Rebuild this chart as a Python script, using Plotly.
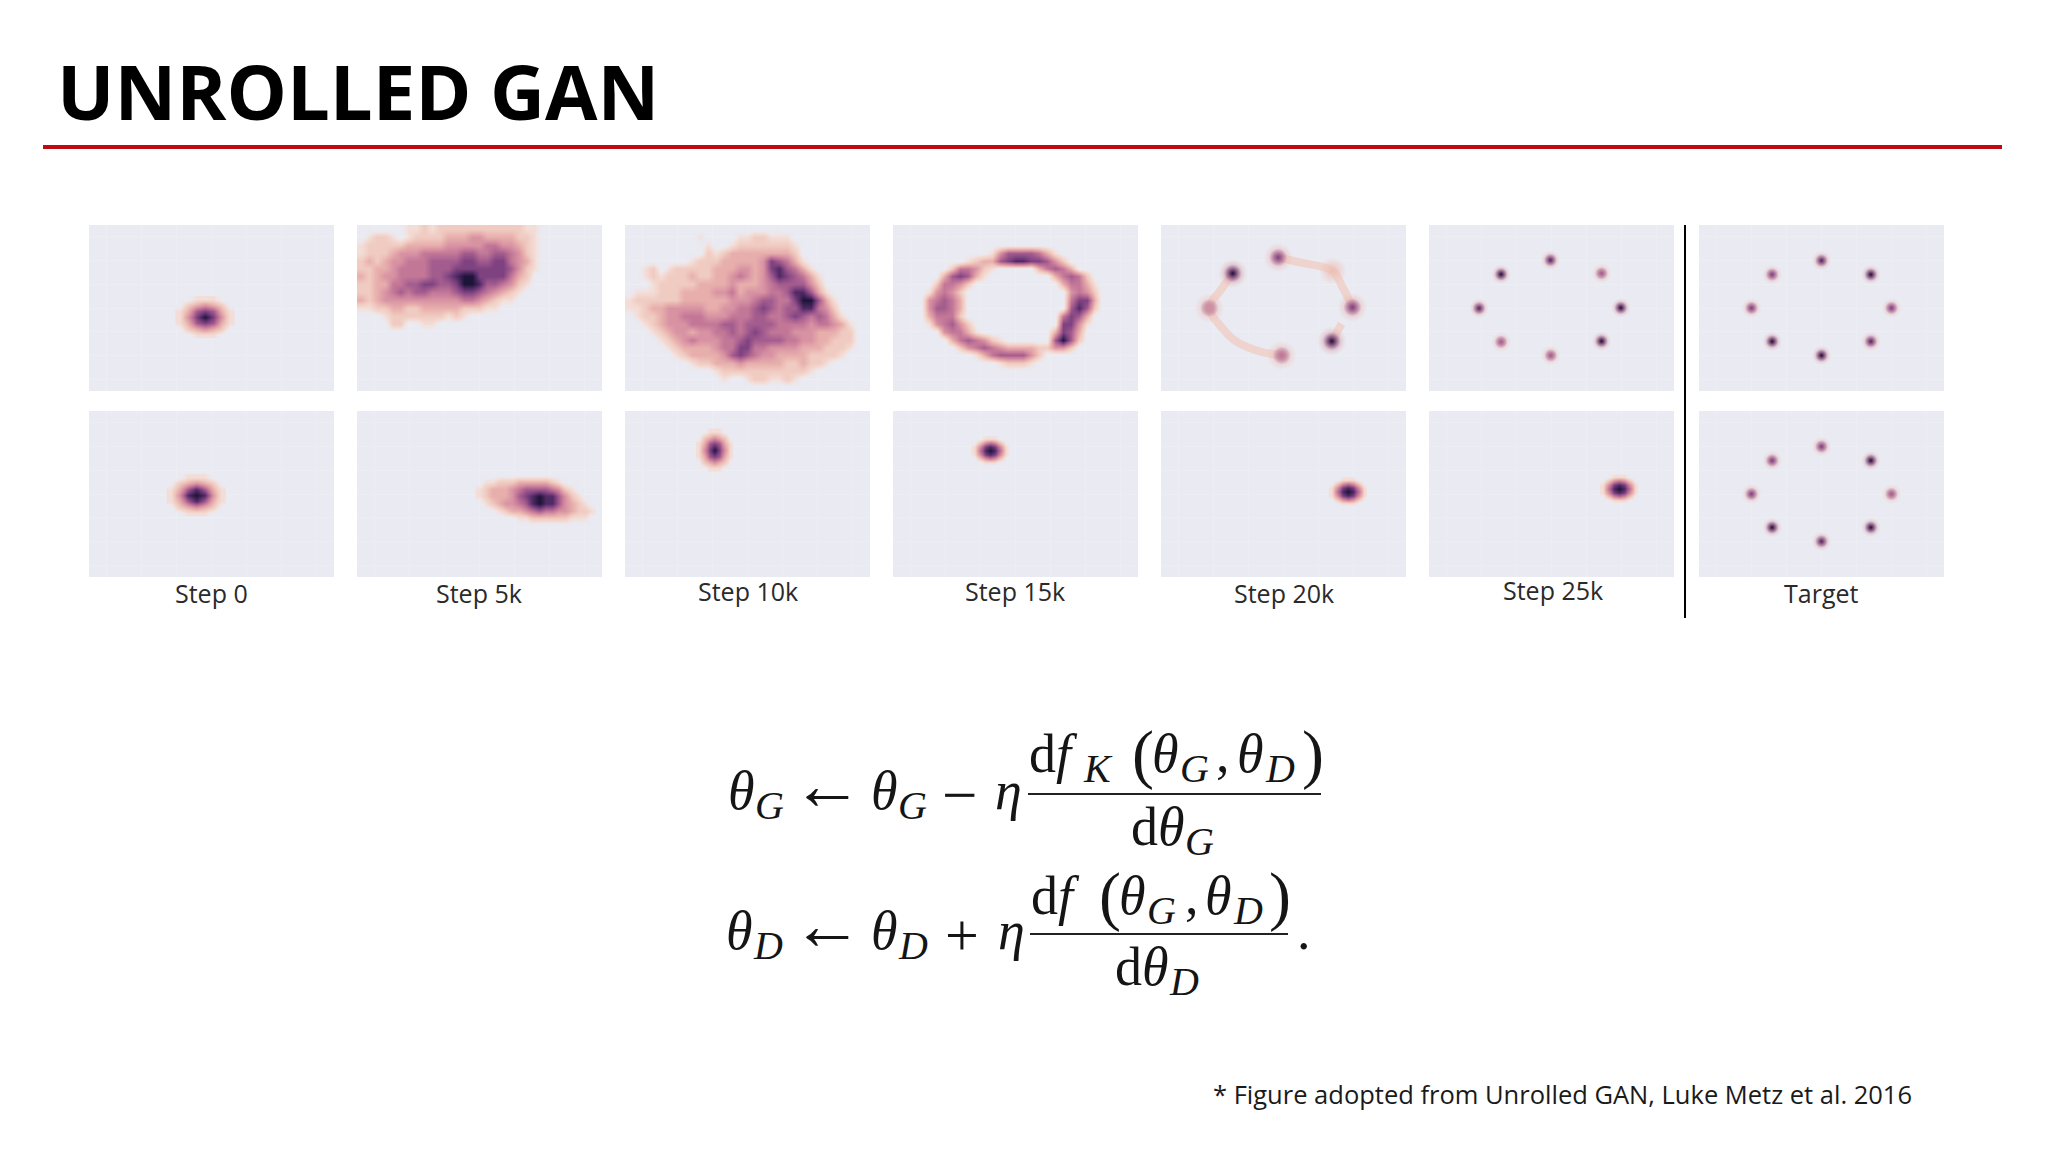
import plotly.graph_objects as go

W, H = 2048, 1152

TITLE_WORDS = ["UNROLLED", "GAN"]
FOOTNOTE = "* Figure adopted from Unrolled GAN, Luke Metz et al. 2016"
STEP_LABELS = ["Step 0", "Step 5k", "Step 10k", "Step 15k", "Step 20k", "Step 25k", "Target"]
LABEL_X = [211, 479, 748, 1015, 1284, 1553, 1821]
LABEL_Y = [593, 593, 591, 591, 593, 590, 593]

COL_LEFT = [89, 357, 625, 893, 1161, 1429, 1699]
PANEL_W = 245
ROW_TOP = [225, 411]
PANEL_H = 166

PALETTE = ["#EAEAF2", "#F3DDD7", "#F0CBC1", "#E7AEAC", "#D893A3", "#C27797",
           "#A35C8E", "#7E4280", "#4F2A63", "#1E1338"]

# Density levels (0-9), one string per row from the top.
DENSITY_5K = [
    "000000112122222222222110",
    "01221012222333443333221",
    "12222233333444445544321",
    "12223444555556655665421",
    "23234455566667766775431",
    "22334555566677777776421",
    "3234455556678997777532",
    "2233556677667998665421",
    "223456566555677654321",
    "32344444444445543211",
    "112233223333322211",
    "000122222221210",
    "0000220011",
]
DENSITY_10K = [
    "",
    "000000000100001122111",
    "0000000000100122222221",
    "0000000000212333333332",
    "00000000122233333476531",
    "001201222223334434786531",
    "0012122232233454346876531",
    "0001222223333433345666642",
    "01112223333445344455688631",
    "122222233333344456655799631",
    "112334444433445567656688542",
    "0122344555444555665567656531",
    "00123444555566566665555455431",
    "00012344344556567655544433322",
    "00001234544455676666554433222",
    "00000123333455775544443332221",
    "0000001233334676544333322221",
    "00000000122333433333223221",
    "000000000001222222222221",
    "0000000000001001221121",
]
DENSITY_15K = [
    "",
    "",
    "",
    "000000000000146666531",
    "0000000001233678877642",
    "00000002554210000035653",
    "0000003676310000000035652",
    "00000255420000000000035531",
    "00001454200000000000004542",
    "00004565300000000000005773",
    "00004665300000000000006862",
    "0000355520000000000005763",
    "0000145642000000000007741",
    "000000455310000000003763",
    "000000035654210000006962",
    "00000000245654333322442",
    "0000000000135666642",
    "000000000000012221",
]

BLOB_0A = [[0,0,1,1,1,0,0],[0,2,3,4,3,2,0],[1,3,6,7,6,3,1],[1,4,7,9,7,4,1],[1,3,6,7,6,3,1],[0,2,3,4,3,2,0],[0,0,1,1,1,0,0]]
BLOB_0B = [[0,0,1,1,1,0,0],[0,2,3,4,3,2,0],[1,3,6,8,6,3,1],[1,4,8,9,8,4,1],[1,3,6,8,6,3,1],[0,2,3,4,3,2,0],[0,0,1,1,1,0,0]]
BLOB_5K = [
    [0,0,0,0,0,0,0,0,0,0,0,0,0,0,0,0,0,0],
    [0,1,1,2,2,2,3,3,3,3,3,2,1,0,0,0,0,0],
    [1,2,3,3,3,4,5,6,6,6,6,5,4,2,1,0,0,0],
    [1,2,3,3,3,4,6,7,8,9,8,8,6,4,2,1,0,0],
    [0,1,2,3,4,4,5,6,8,9,8,8,6,4,3,2,1,0],
    [0,0,0,1,2,3,3,4,5,6,5,5,4,4,3,2,2,1],
    [0,0,0,0,0,0,1,1,2,2,2,2,2,2,1,1,1,0],
    [0,0,0,0,0,0,0,0,0,0,0,0,0,0,0,0,0,0],
]
BLOB_10K = BLOB_0A
BLOB_15K = [[0,0,1,1,1,0,0],[0,2,4,5,4,2,0],[1,4,7,8,7,4,1],[1,5,8,9,8,5,1],[1,4,7,8,7,4,1],[0,2,4,5,4,2,0],[0,0,1,1,1,0,0]]
BLOB_20K = [[0,0,1,1,1,0,0],[0,2,4,5,4,2,0],[1,4,7,8,7,4,1],[1,5,8,9,8,5,1],[1,4,7,8,7,4,1],[0,2,4,5,4,2,0],[0,0,1,1,1,0,0]]
BLOB_25K = [[0,0,1,1,1,0,0],[0,2,4,5,4,2,0],[1,4,7,8,7,4,1],[1,5,8,9,8,5,1],[1,4,7,8,7,4,1],[0,2,4,5,4,2,0],[0,0,1,1,1,0,0]]

# (panel col, row, matrix, centre x, centre y, spacing x, spacing y)
BLOBS = [
    (0, 0, BLOB_0A, -0.19, -0.37, 0.24, 0.25),
    (0, 1, BLOB_0B, -0.44, -0.04, 0.24, 0.25),
    (1, 1, BLOB_5K, 1.60, -0.25, 0.19, 0.30),
    (2, 1, BLOB_10K, -0.95, 1.85, 0.15, 0.26),
    (3, 1, BLOB_15K, -0.73, 1.83, 0.15, 0.17),
    (4, 1, BLOB_20K, 1.84, 0.10, 0.155, 0.17),
    (5, 1, BLOB_25K, 1.93, 0.22, 0.155, 0.17),
]

RING_X = [0.00, -1.41, 1.41, -2.00, 2.00, -1.41, 1.41, 0.00]
RING_Y = [2.00, 1.41, 1.41, 0.00, 0.00, -1.41, -1.41, -2.00]
STEP25K_X = [-0.03, -1.44, 1.43, -2.07, 1.98, -1.44, 1.43, -0.02]
STEP25K_Y = [2.02, 1.42, 1.46, -0.01, 0.01, -1.43, -1.40, -2.00]
STEP25K_LEVEL = [8, 9, 6, 8, 9, 6, 9, 6]
TARGET_A_LEVEL = [8, 7, 9, 7, 7, 9, 8, 9]
TARGET_B_LEVEL = [7, 7, 9, 7, 6, 9, 9, 8]
STEP20K_X = [-0.15, -1.45, -2.12, -0.05, 1.38, 1.97]
STEP20K_Y = [2.13, 1.46, 0.00, -2.00, -1.40, 0.03]
STEP20K_LEVEL = [7, 9, 4, 5, 9, 7]
STRAND_X = [[-0.15, 0.47, 1.40, 1.69, 1.97], [1.66, 1.38], [-1.45, -1.77, -2.12, -1.77, -1.39, -0.77, -0.05]]
STRAND_Y = [[2.13, 1.92, 1.57, 0.87, 0.03], [-0.67, -1.40], [1.46, 0.80, 0.00, -0.81, -1.37, -1.79, -2.00]]
PALE_BLOB_X = [1.40]
PALE_BLOB_Y = [1.57]

fig = go.Figure()
layout = {}
colorscale = [[0, "rgba(234,234,242,0)"]] + [[i / 9, PALETTE[i]] for i in range(1, 10)]


def panel_axes(col, row):
    n = row * 7 + col + 1
    x0 = COL_LEFT[col] / W
    x1 = (COL_LEFT[col] + PANEL_W) / W
    y1 = 1 - ROW_TOP[row] / H
    y0 = 1 - (ROW_TOP[row] + PANEL_H) / H
    common = dict(range=[-3.5, 3.5], showticklabels=False, ticks="", zeroline=False, showline=False,
                  showgrid=True, gridcolor="#EDEDF4", gridwidth=1, dtick=1, tick0=-3, fixedrange=True)
    layout[f"xaxis{n}"] = dict(domain=[x0, x1], anchor=f"y{n}", **common)
    layout[f"yaxis{n}"] = dict(domain=[y0, y1], anchor=f"x{n}", **common)
    return f"x{n}", f"y{n}"


AX = {(c, r): panel_axes(c, r) for c in range(7) for r in range(2)}


def add_heat(col, row, z, x0, dx, y0, dy):
    xa, ya = AX[(col, row)]
    fig.add_trace(go.Heatmap(z=z, x0=x0, dx=dx, y0=y0, dy=dy, xaxis=xa, yaxis=ya, zsmooth="best",
                             zmin=0, zmax=9, colorscale=colorscale, showscale=False, hoverinfo="skip"))


def grid_from_rows(rows):
    cols_n, rows_n = 31, 21
    padded = [r.ljust(cols_n, "0") for r in rows] + ["0" * cols_n] * (rows_n - len(rows))
    return [[int(ch) for ch in r] for r in padded][::-1]


for col, rows in ((1, DENSITY_5K), (2, DENSITY_10K), (3, DENSITY_15K)):
    add_heat(col, 0, grid_from_rows(rows), -3.5 + 3.5 / 31, 7 / 31, -3.5 + 3.5 / 21, 7 / 21)

for col, row, mat, cx, cy, dx, dy in BLOBS:
    ny, nx = len(mat), len(mat[0])
    add_heat(col, row, mat[::-1], cx - dx * (nx - 1) / 2, dx, cy - dy * (ny - 1) / 2, dy)


def add_dots(col, row, xs, ys, levels, halo_size=20, core_size=13):
    xa, ya = AX[(col, row)]
    halo = [PALETTE[max(3, l - 3)] for l in levels]
    fig.add_trace(go.Scatter(x=xs, y=ys, xaxis=xa, yaxis=ya, mode="markers", hoverinfo="skip",
                             marker=dict(size=halo_size, color="rgba(239,198,188,0)", line_width=0,
                                         gradient=dict(type="radial", color=halo))))
    core = [PALETTE[l] for l in levels]
    fig.add_trace(go.Scatter(x=xs, y=ys, xaxis=xa, yaxis=ya, mode="markers", hoverinfo="skip",
                             marker=dict(size=core_size, color="rgba(142,76,133,0)", line_width=0,
                                         gradient=dict(type="radial", color=core))))


xa, ya = AX[(4, 0)]
for sx, sy in zip(STRAND_X, STRAND_Y):
    fig.add_trace(go.Scatter(x=sx, y=sy, xaxis=xa, yaxis=ya, mode="lines", hoverinfo="skip",
                             line=dict(color="rgba(240,205,196,0.8)", width=8, shape="spline")))
fig.add_trace(go.Scatter(x=PALE_BLOB_X, y=PALE_BLOB_Y, xaxis=xa, yaxis=ya, mode="markers", hoverinfo="skip",
                         marker=dict(size=28, color="rgba(239,198,188,0)", line_width=0,
                                     gradient=dict(type="radial", color="#EDBDB4"))))
add_dots(4, 0, STEP20K_X, STEP20K_Y, STEP20K_LEVEL, 30, 18)
add_dots(5, 0, STEP25K_X, STEP25K_Y, STEP25K_LEVEL)
add_dots(6, 0, RING_X, RING_Y, TARGET_A_LEVEL)
add_dots(6, 1, RING_X, RING_Y, TARGET_B_LEVEL)

annotations = []


def put(x, y, s, size, anchor="left", font="Liberation Serif", color="#151515"):
    annotations.append(dict(x=x / W, y=1 - y / H, xref="paper", yref="paper", text=s, showarrow=False,
                            xanchor=anchor, yanchor="middle", align=anchor,
                            font=dict(family=font, size=size, color=color), borderpad=0))


def base(x, b, s, size=54, anchor="left"):
    """Place maths text by its baseline."""
    put(x, b - 0.30 * size, s, size, anchor)


put(56, 90, f"<b>{TITLE_WORDS[0]}</b>", 76, font="Open Sans", color="#000000")
put(489, 90, f"<b>{TITLE_WORDS[1]}</b>", 76, font="Open Sans", color="#000000")
put(1212, 1094, FOOTNOTE, 25.5, font="Open Sans", color="#1a1a1a")
for lx, ly, t in zip(LABEL_X, LABEL_Y, STEP_LABELS):
    put(lx, ly, t, 25, anchor="center", font="Open Sans", color="#2a2a2a")

S = 40
PAREN = 66
it = lambda s: f"<i>{s}</i>"

# first equation
base(727, 807, it("θ")); base(754, 817, it("G"), S)
put(791, 785, "←", 71)
base(870, 807, it("θ")); base(897, 817, it("G"), S)
put(941, 795, "−", 63)
base(994, 807, it("η"))
base(1028, 770, "d" + it("f")); base(1082, 780, it("K"), S)
base(1131, 774, "(", PAREN); base(1151, 770, it("θ")); base(1179, 780, it("G"), S)
base(1215, 770, ","); base(1236, 770, it("θ")); base(1264, 780, it("D"), S)
base(1301, 774, ")", PAREN)
base(1130, 843, "d" + it("θ")); base(1184, 853, it("G"), S)

# second equation
base(725, 947, it("θ")); base(752, 957, it("D"), S)
put(791, 925, "←", 71)
base(870, 947, it("θ")); base(897, 957, it("D"), S)
put(944, 935, "+", 60)
base(997, 947, it("η"))
base(1030, 912, "d" + it("f"))
base(1098, 916, "(", PAREN); base(1118, 912, it("θ")); base(1146, 922, it("G"), S)
base(1184, 912, ","); base(1204, 912, it("θ")); base(1232, 922, it("D"), S)
base(1268, 916, ")", PAREN)
base(1114, 983, "d" + it("θ")); base(1168, 993, it("D"), S)
base(1296, 947, ".")


def hline(x0, x1, y, color, width):
    return dict(type="line", xref="paper", yref="paper", x0=x0 / W, x1=x1 / W, y0=1 - y / H, y1=1 - y / H,
                line=dict(color=color, width=width))


shapes = [
    hline(43, 2002, 147, "#BE0A12", 4),
    hline(1028, 1321, 794, "#222222", 2),
    hline(1030, 1288, 934, "#222222", 2),
    dict(type="line", xref="paper", yref="paper", x0=1685 / W, x1=1685 / W, y0=1 - 225 / H, y1=1 - 618 / H,
         line=dict(color="#000000", width=2)),
]

fig.update_layout(width=W, height=H, autosize=False, margin=dict(l=0, r=0, t=0, b=0), showlegend=False,
                  paper_bgcolor="#FFFFFF", plot_bgcolor="#EAEAF2", annotations=annotations, shapes=shapes, **layout)

fig.write_html("out.html", config={"displayModeBar": False},
               post_script="document.body.style.margin='0';document.documentElement.style.overflow='hidden';")
